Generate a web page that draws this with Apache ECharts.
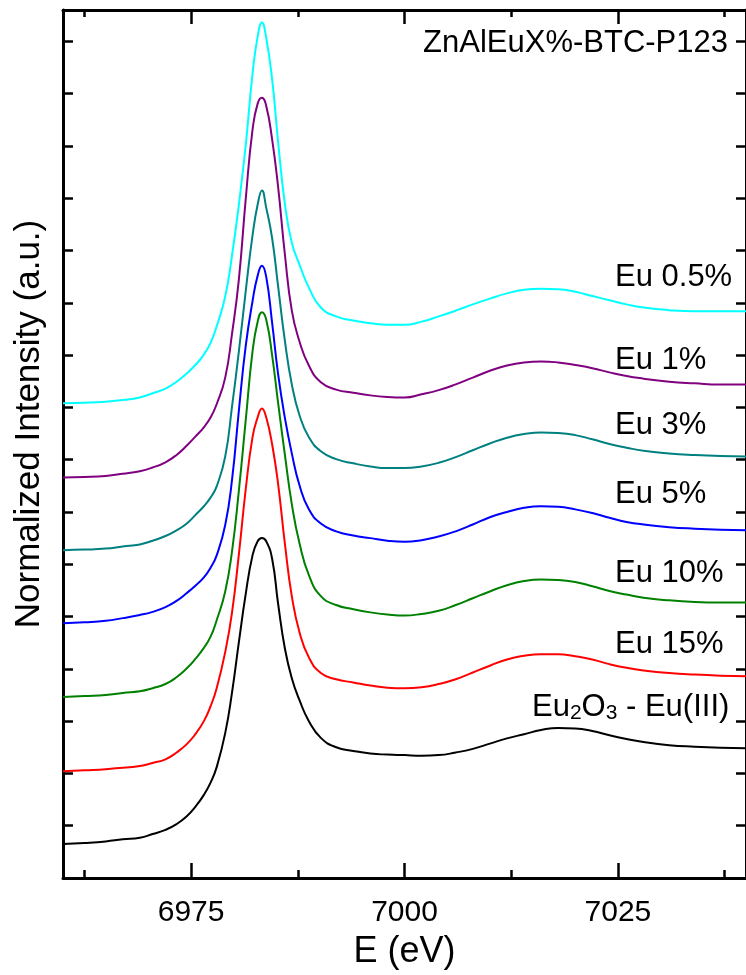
<!DOCTYPE html>
<html><head><meta charset="utf-8">
<script src="https://cdn.jsdelivr.net/npm/echarts@6/dist/echarts.min.js"></script>
<style>html,body{margin:0;padding:0;background:#fff}#c{width:746px;height:975px}</style>
</head><body><div id="c"></div>
<script>
// Energy grid (eV)
const energy = [6960, 6962.5, 6965, 6967, 6969, 6970.5, 6972, 6973.3, 6974.5, 6975.5, 6976.5, 6977.3, 6978,
  6979, 6979.8, 6980.6, 6981.4, 6982.2, 6982.8, 6983.3, 6983.8, 6984.5, 6985.2, 6986, 6986.8, 6987.7, 6988.8, 6990.2,
  6992, 6994, 6996, 6998, 7000, 7002, 7004, 7006, 7008, 7010, 7012, 7014, 7016, 7018, 7020, 7022, 7024, 7026, 7028, 7031, 7034, 7037, 7040];
// Normalized intensity (curves offset vertically, arbitrary units)
const eu05 = [9.08, 9.09, 9.11, 9.14, 9.19, 9.27, 9.36, 9.49, 9.65, 9.81, 10.01, 10.24, 10.55,
  11.12, 11.91, 12.88, 14.01, 15.38, 16.09, 16.36, 16.07, 15.27, 14.07, 12.88, 12.15, 11.73, 11.29, 10.91,
  10.74, 10.66, 10.61, 10.58, 10.58, 10.64, 10.74, 10.85, 10.97, 11.08, 11.18, 11.25, 11.27, 11.26, 11.21, 11.13, 11.05, 10.97, 10.91, 10.86, 10.84, 10.84, 10.84];
const eu1 = [7.66, 7.67, 7.69, 7.73, 7.78, 7.85, 7.95, 8.09, 8.27, 8.44, 8.62, 8.81, 9.06,
  9.57, 10.41, 11.45, 12.98, 14.31, 14.81, 14.92, 14.77, 14.12, 13.21, 11.91, 10.85, 10.26, 9.80, 9.48,
  9.34, 9.28, 9.23, 9.20, 9.19, 9.25, 9.33, 9.44, 9.57, 9.70, 9.80, 9.86, 9.88, 9.86, 9.81, 9.75, 9.67, 9.60, 9.55, 9.49, 9.46, 9.44, 9.44];
const eu3 = [6.27, 6.28, 6.30, 6.34, 6.38, 6.45, 6.54, 6.65, 6.78, 6.94, 7.11, 7.28, 7.49,
  8.06, 9.02, 10.07, 11.22, 12.29, 12.88, 13.15, 12.82, 12.23, 11.31, 10.26, 9.44, 8.85, 8.43, 8.16,
  8.01, 7.93, 7.87, 7.84, 7.84, 7.87, 7.94, 8.05, 8.18, 8.31, 8.42, 8.49, 8.52, 8.51, 8.47, 8.39, 8.30, 8.23, 8.17, 8.12, 8.09, 8.07, 8.06];
const eu5 = [4.87, 4.89, 4.92, 4.97, 5.03, 5.09, 5.18, 5.30, 5.45, 5.59, 5.75, 5.94, 6.17,
  6.75, 7.62, 8.94, 10.17, 11.03, 11.52, 11.71, 11.50, 10.61, 9.63, 8.79, 8.12, 7.51, 7.05, 6.78,
  6.63, 6.55, 6.50, 6.45, 6.43, 6.46, 6.53, 6.63, 6.76, 6.90, 7.00, 7.08, 7.11, 7.10, 7.05, 6.98, 6.89, 6.81, 6.76, 6.71, 6.68, 6.66, 6.65];
const eu10 = [3.46, 3.48, 3.50, 3.54, 3.57, 3.63, 3.71, 3.84, 4.01, 4.19, 4.40, 4.62, 4.93,
  5.48, 6.25, 7.41, 8.75, 10.07, 10.64, 10.82, 10.68, 9.99, 9.08, 8.08, 7.15, 6.40, 5.79, 5.39,
  5.22, 5.14, 5.08, 5.04, 5.02, 5.05, 5.11, 5.22, 5.35, 5.48, 5.60, 5.68, 5.71, 5.70, 5.66, 5.58, 5.49, 5.42, 5.36, 5.31, 5.28, 5.27, 5.27];
const eu15 = [2.04, 2.06, 2.08, 2.11, 2.14, 2.20, 2.27, 2.40, 2.56, 2.75, 3.00, 3.29, 3.63,
  4.32, 5.08, 6.19, 7.43, 8.43, 8.81, 8.98, 8.81, 8.29, 7.53, 6.38, 5.39, 4.70, 4.22, 3.92,
  3.80, 3.74, 3.68, 3.64, 3.63, 3.65, 3.71, 3.80, 3.93, 4.06, 4.18, 4.25, 4.28, 4.28, 4.24, 4.18, 4.09, 4.02, 3.97, 3.92, 3.89, 3.87, 3.86];
const eu2o3 = [0.65, 0.67, 0.70, 0.74, 0.77, 0.84, 0.92, 1.03, 1.18, 1.36, 1.59, 1.83, 2.12,
  2.77, 3.55, 4.51, 5.43, 6.17, 6.44, 6.50, 6.44, 6.10, 5.24, 4.38, 3.82, 3.40, 3.00, 2.68,
  2.50, 2.43, 2.38, 2.36, 2.35, 2.34, 2.35, 2.40, 2.47, 2.57, 2.67, 2.75, 2.83, 2.87, 2.86, 2.81, 2.73, 2.66, 2.60, 2.54, 2.51, 2.49, 2.48];

const seriesNames = ['Eu 0.5%', 'Eu 1%', 'Eu 3%', 'Eu 5%', 'Eu 10%', 'Eu 15%', 'Eu2O3 - Eu(III)'];
const seriesValues = [eu05, eu1, eu3, eu5, eu10, eu15, eu2o3];
const seriesColors = ['#00FFFF', '#800080', '#008080', '#0000FF', '#008000', '#FF0000', '#000000'];

const xMajorTicks = [6975, 7000, 7025];
const xMinorTicks = [6962.5, 6987.5, 7012.5, 7037.5];

const FONT = "'Liberation Sans', Arial, Helvetica, sans-serif";
const chart = echarts.init(document.getElementById('c'), null, {renderer: 'canvas'});

function xAx(pos, ticks, len, showLine, showLabel) {
  return {
    type: 'value', position: pos, min: 6960, max: 7040,
    axisLine: {show: showLine, onZero: false, lineStyle: {color: '#000', width: 3}},
    axisTick: {show: true, inside: true, length: len, customValues: ticks, lineStyle: {color: '#000', width: 2.5}},
    axisLabel: {show: showLabel, customValues: ticks, color: '#000', fontSize: 30, fontFamily: FONT, margin: 20,
      formatter: v => String(v)},
    splitLine: {show: false}
  };
}
function yAx(pos) {
  return {
    type: 'value', position: pos, min: 0, max: 16.6, interval: 1,
    axisLine: {show: true, onZero: false, lineStyle: {color: '#000', width: 3}},
    axisTick: {show: true, inside: true, length: 10, lineStyle: {color: '#000', width: 2.5}},
    axisLabel: {show: false}, splitLine: {show: false}
  };
}

const xBottom = xAx('bottom', xMajorTicks, 15, true, true);
xBottom.name = 'E (eV)';
xBottom.nameLocation = 'middle';
xBottom.nameGap = 56;
xBottom.nameTextStyle = {color: '#000', fontSize: 36, fontFamily: FONT};

const labelStyle = {fill: '#000', fontSize: 31, fontFamily: FONT, verticalAlign: 'middle'};
const labelSpots = [[615, 277], [615, 360], [615, 425], [615, 494], [615, 573], [615, 644]];

const graphics = [
  {type: 'text', x: 29, y: 424, rotation: Math.PI / 2,
   style: {text: 'Normalized Intensity (a.u.)', fill: '#000', fontSize: 35, fontFamily: FONT, align: 'center', verticalAlign: 'middle'}},
  {type: 'text', x: 728, y: 43,
   style: {text: 'ZnAlEuX%-BTC-P123', fill: '#000', fontSize: 31, fontFamily: FONT, align: 'right', verticalAlign: 'middle'}},
  {type: 'text', x: 532, y: 707,
   style: {text: '{a|Eu}{s|2}{a|O}{s|3}{a| - Eu(III)}', align: 'left', verticalAlign: 'middle',
     rich: {a: {fill: '#000', fontSize: 31, fontFamily: FONT, lineHeight: 34},
            s: {fill: '#000', fontSize: 21, fontFamily: FONT, lineHeight: 18, verticalAlign: 'bottom'}}}}
];
labelSpots.forEach((p, i) => {
  graphics.push({type: 'text', x: p[0], y: p[1], style: Object.assign({text: seriesNames[i], align: 'left'}, labelStyle)});
});

chart.setOption({
  backgroundColor: '#fff',
  animation: false,
  grid: {left: 63, top: 10, width: 685, height: 868, containLabel: false},
  xAxis: [xBottom, xAx('bottom', xMinorTicks, 8, false, false), xAx('top', xMajorTicks, 14, true, false), xAx('top', xMinorTicks, 7, false, false)],
  yAxis: [yAx('left'), yAx('right')],
  graphic: graphics,
  series: seriesValues.map((vals, i) => ({
    type: 'line', name: seriesNames[i], xAxisIndex: 0, yAxisIndex: 0,
    data: energy.map((e, k) => [e, vals[k]]),
    showSymbol: false, smooth: 0.5, clip: true,
    lineStyle: {color: seriesColors[i], width: 2}
  }))
});
</script></body></html>
